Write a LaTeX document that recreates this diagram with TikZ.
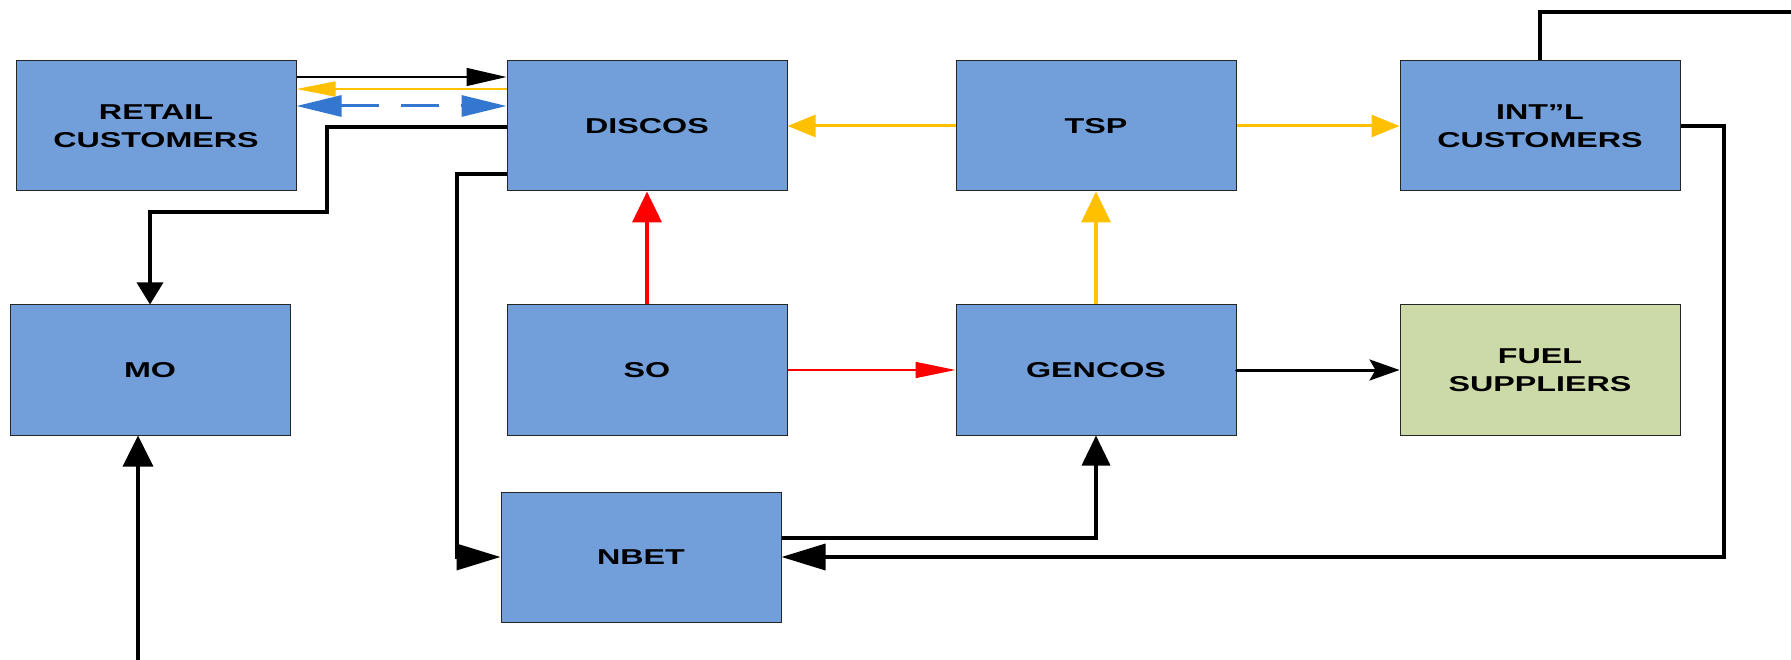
\documentclass[tikz,border=0pt]{standalone}
\usepackage{fontspec}
\newfontfamily\lab{Liberation Sans}[FakeStretch=1.5]
\usetikzlibrary{arrows.meta}
\definecolor{boxblue}{RGB}{114,158,218}
\definecolor{boxgreen}{RGB}{204,218,168}
\definecolor{yel}{RGB}{255,192,0}
\definecolor{dblue}{RGB}{52,119,208}
\tikzset{
  box/.style={draw=black!85, line width=1pt, fill=boxblue, minimum width=280pt, minimum height=130pt, inner sep=0pt, align=center, font=\lab\bfseries\fontsize{21.5}{28}\selectfont},
  thick line/.style={line width=3.5pt},
}
\begin{document}
\begin{tikzpicture}[x=1pt,y=-1pt]
\useasboundingbox (0,0) rectangle (1791,660);
\node[box] (retail) at (156,126) {RETAIL\\CUSTOMERS};
\node[box] (discos) at (647,126) {DISCOS};
\node[box] (tsp) at (1096,126) {TSP};
\node[box] (intl) at (1540,126) {INT”L\\CUSTOMERS};
\node[box] (mo) at (150,370) {MO};
\node[box] (so) at (647,370) {SO};
\node[box] (gencos) at (1096,370) {GENCOS};
\node[box, fill=boxgreen] (fuel) at (1540,370) {FUEL\\SUPPLIERS};
\node[box] (nbet) at (641,557) {NBET};
\coordinate (topend) at (1791,12);
\coordinate (mosrc) at (138,660);

% retail <-> discos
\draw[line width=1.5pt, -{Triangle[length=40pt,width=18pt]}] (retail.east |- 0,77) -- (discos.west |- 0,77);
\draw[yel, line width=1.5pt, -{Triangle[length=39pt,width=15pt]}] (discos.west |- 0,89) -- (retail.east |- 0,89);
\draw[dblue, line width=3pt, dash pattern=on 38pt off 22pt, {Triangle[length=45pt,width=21pt]}-{Triangle[length=45pt,width=21pt]}] (retail.east |- 0,106) -- (discos.west |- 0,106);

% discos -> mo
\draw[thick line, -{Triangle[length=22pt,width=26pt]}] (discos.west |- 0,127) -| (327,212) -| (mo.north);
% discos -> nbet
\draw[thick line, -{Triangle[length=44pt,width=26pt]}] (discos.west |- 0,174) -| (457,557) -- (nbet.west);

% tsp -> discos, tsp -> intl
\draw[yel, line width=3pt, -{Triangle[length=28pt,width=22pt]}] (tsp.west) -- (discos.east);
\draw[yel, line width=3pt, -{Triangle[length=28pt,width=22pt]}] (tsp.east) -- (intl.west);

% intl top line
\draw[thick line] (intl.north) |- (topend);
% intl -> nbet
\draw[thick line, -{Triangle[length=44pt,width=26pt]}] (intl.east) -| (1724,557) -- (nbet.east);

% so -> discos, so -> gencos
\draw[red, line width=4pt, -{Triangle[length=31pt,width=29pt]}] (so.north) -- (discos.south);
\draw[red, line width=1.5pt, -{Triangle[length=40pt,width=16pt]}] (so.east) -- (gencos.west);

% gencos -> tsp, gencos -> fuel
\draw[yel, line width=3.5pt, -{Triangle[length=31pt,width=29pt]}] (gencos.north) -- (tsp.south);
\draw[line width=3pt, line cap=round, -{Stealth[length=30pt,width=21pt,inset=6pt]}] (gencos.east) -- (fuel.west);

% nbet -> gencos
\draw[thick line, -{Triangle[length=30pt,width=28pt]}] (nbet.east |- 0,538) -| (gencos.south);

% bottom -> mo
\draw[thick line, -{Triangle[length=31pt,width=30pt]}] (mosrc) -- (mo.south -| mosrc);
\end{tikzpicture}
\end{document}
